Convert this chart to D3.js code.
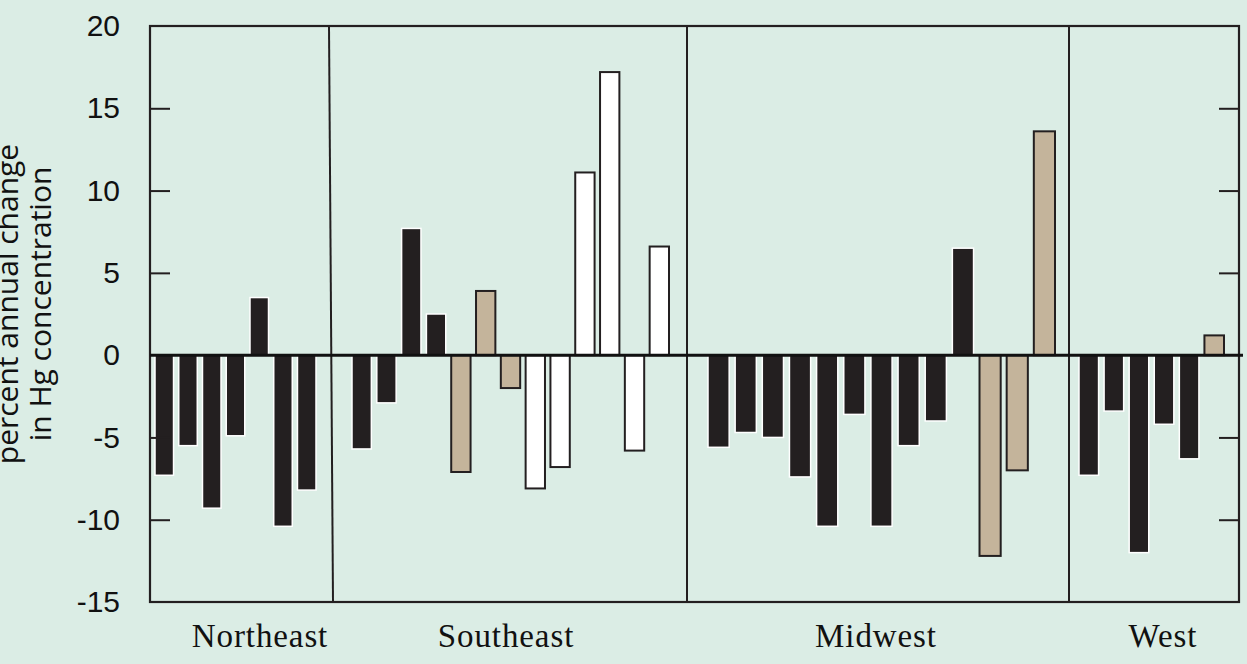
<!DOCTYPE html>
<html>
<head>
<meta charset="utf-8">
<script src="https://cdn.jsdelivr.net/npm/d3@7"></script>
<style>
  html, body { margin: 0; padding: 0; background: #dbede5; }
  svg { display: block; }
</style>
</head>
<body>
<div id="chart"></div>
<script>
// regions and their bar values (percent annual change)
const regions = ["Northeast", "Southeast", "Midwest", "West"];

const northeastValues = [-7.3, -5.5, -9.3, -4.9, 3.5, -10.4, -8.2];
const northeastKinds  = ["dark", "dark", "dark", "dark", "dark", "dark", "dark"];

const southeastValues = [-5.7, -2.9, 7.7, 2.5, -7.1, 3.9, -2.0, -8.1, -6.8, 11.1, 17.2, -5.8, 6.6];
const southeastKinds  = ["dark", "dark", "dark", "dark", "tan", "tan", "tan",
                         "open", "open", "open", "open", "open", "open"];

const midwestValues = [-5.6, -4.7, -5.0, -7.4, -10.4, -3.6, -10.4, -5.5, -4.0, 6.5, -12.2, -7.0, 13.6];
const midwestKinds  = ["dark", "dark", "dark", "dark", "dark", "dark", "dark", "dark", "dark", "dark",
                       "tan", "tan", "tan"];

const westValues = [-7.3, -3.4, -12.0, -4.2, -6.3, 1.2];
const westKinds  = ["dark", "dark", "dark", "dark", "dark", "tan"];

const yTicks = [20, 15, 10, 5, 0, -5, -10, -15];
const yTitle = ["percent annual change", "in Hg concentration"];

const W = 1247, H = 664;
const plot = { left: 150, right: 1239, top: 26, bottom: 602 };

// layout of each region: where its bars sit, where the divider and label go
const layout = [
    { bars: [155, 316], label: 260, divider: null },
    { bars: [352, 669], label: 506, divider: [329, 333] },
    { bars: [708, 1055], label: 876, divider: [687, 687] },
    { bars: [1079, 1224], label: 1163, divider: [1069, 1069] }
];

const seriesValues = [northeastValues, southeastValues, midwestValues, westValues];
const seriesKinds = [northeastKinds, southeastKinds, midwestKinds, westKinds];

const style = {
    dark: { fill: "#231f20", stroke: "#ffffff", width: 1.5 },
    tan:  { fill: "#c4b49b", stroke: "#231f20", width: 2 },
    open: { fill: "#ffffff", stroke: "#231f20", width: 2 }
};
const ink = "#231f20";

const svg = d3.select("#chart").append("svg")
    .attr("width", W)
    .attr("height", H);

svg.append("rect")
    .attr("width", W).attr("height", H)
    .attr("fill", "#dbede5");

const y = d3.scaleLinear()
    .domain([-15, 20])
    .range([plot.bottom, plot.top]);

// bars, one band scale per region
regions.forEach((name, gi) => {
    const vals = seriesValues[gi];
    const kinds = seriesKinds[gi];
    const x = d3.scaleBand()
        .domain(d3.range(vals.length))
        .range(layout[gi].bars)
        .paddingInner(0.22)
        .paddingOuter(0);

    svg.append("g")
        .attr("class", "bars " + name)
        .selectAll("rect")
        .data(vals)
        .join("rect")
        .attr("x", (d, i) => x(i))
        .attr("width", x.bandwidth())
        .attr("y", d => y(Math.max(0, d)))
        .attr("height", d => Math.abs(y(d) - y(0)))
        .attr("fill", (d, i) => style[kinds[i]].fill)
        .attr("stroke", (d, i) => style[kinds[i]].stroke)
        .attr("stroke-width", (d, i) => style[kinds[i]].width);
});

// frame
svg.append("rect")
    .attr("x", plot.left).attr("y", plot.top)
    .attr("width", plot.right - plot.left)
    .attr("height", plot.bottom - plot.top)
    .attr("fill", "none")
    .attr("stroke", ink)
    .attr("stroke-width", 2.2);

// region dividers
svg.append("g").selectAll("line")
    .data(layout.filter(l => l.divider))
    .join("line")
    .attr("x1", d => d.divider[0]).attr("x2", d => d.divider[1])
    .attr("y1", plot.top).attr("y2", plot.bottom)
    .attr("stroke", ink)
    .attr("stroke-width", 2);

// zero line
svg.append("line")
    .attr("x1", plot.left).attr("x2", plot.right + 4)
    .attr("y1", y(0)).attr("y2", y(0))
    .attr("stroke", "#111")
    .attr("stroke-width", 3);

// left axis: inward ticks, labels outside
const leftAxis = d3.axisLeft(y)
    .tickValues(yTicks)
    .tickSizeInner(-20)
    .tickSizeOuter(0)
    .tickPadding(30)
    .tickFormat(d => String(d));

const gl = svg.append("g")
    .attr("transform", `translate(${plot.left},0)`)
    .call(leftAxis);
gl.select(".domain").remove();
gl.selectAll(".tick line")
    .attr("stroke", ink)
    .attr("stroke-width", 2)
    .attr("display", d => (d === 20 || d === 0 || d === -15) ? "none" : null);
gl.selectAll(".tick text")
    .attr("fill", "#111")
    .style("font-family", "'Liberation Sans', Arial, sans-serif")
    .style("font-size", "30px");

// right axis: ticks only
const rightAxis = d3.axisRight(y)
    .tickValues(yTicks.filter(d => d !== 20 && d !== 0 && d !== -15))
    .tickSizeInner(-20)
    .tickSizeOuter(0)
    .tickFormat("");
const gr = svg.append("g")
    .attr("transform", `translate(${plot.right},0)`)
    .call(rightAxis);
gr.select(".domain").remove();
gr.selectAll(".tick line")
    .attr("stroke", ink)
    .attr("stroke-width", 2);

// y-axis title
const title = svg.append("text")
    .attr("transform", "translate(0,304) rotate(-90)")
    .attr("text-anchor", "middle")
    .attr("fill", "#111")
    .style("font-family", "'Open Sans', sans-serif")
    .style("font-size", "30px");
title.selectAll("tspan")
    .data(yTitle)
    .join("tspan")
    .attr("x", 0)
    .attr("y", (d, i) => i === 0 ? 18 : 51)
    .text(d => d);

// region labels
svg.append("g").selectAll("text")
    .data(regions)
    .join("text")
    .attr("x", (d, i) => layout[i].label)
    .attr("y", 647)
    .attr("text-anchor", "middle")
    .attr("fill", "#111")
    .style("font-family", "'Liberation Serif', 'Times New Roman', serif")
    .style("font-size", "33px")
    .style("letter-spacing", "0.9px")
    .text(d => d);
</script>
</body>
</html>
